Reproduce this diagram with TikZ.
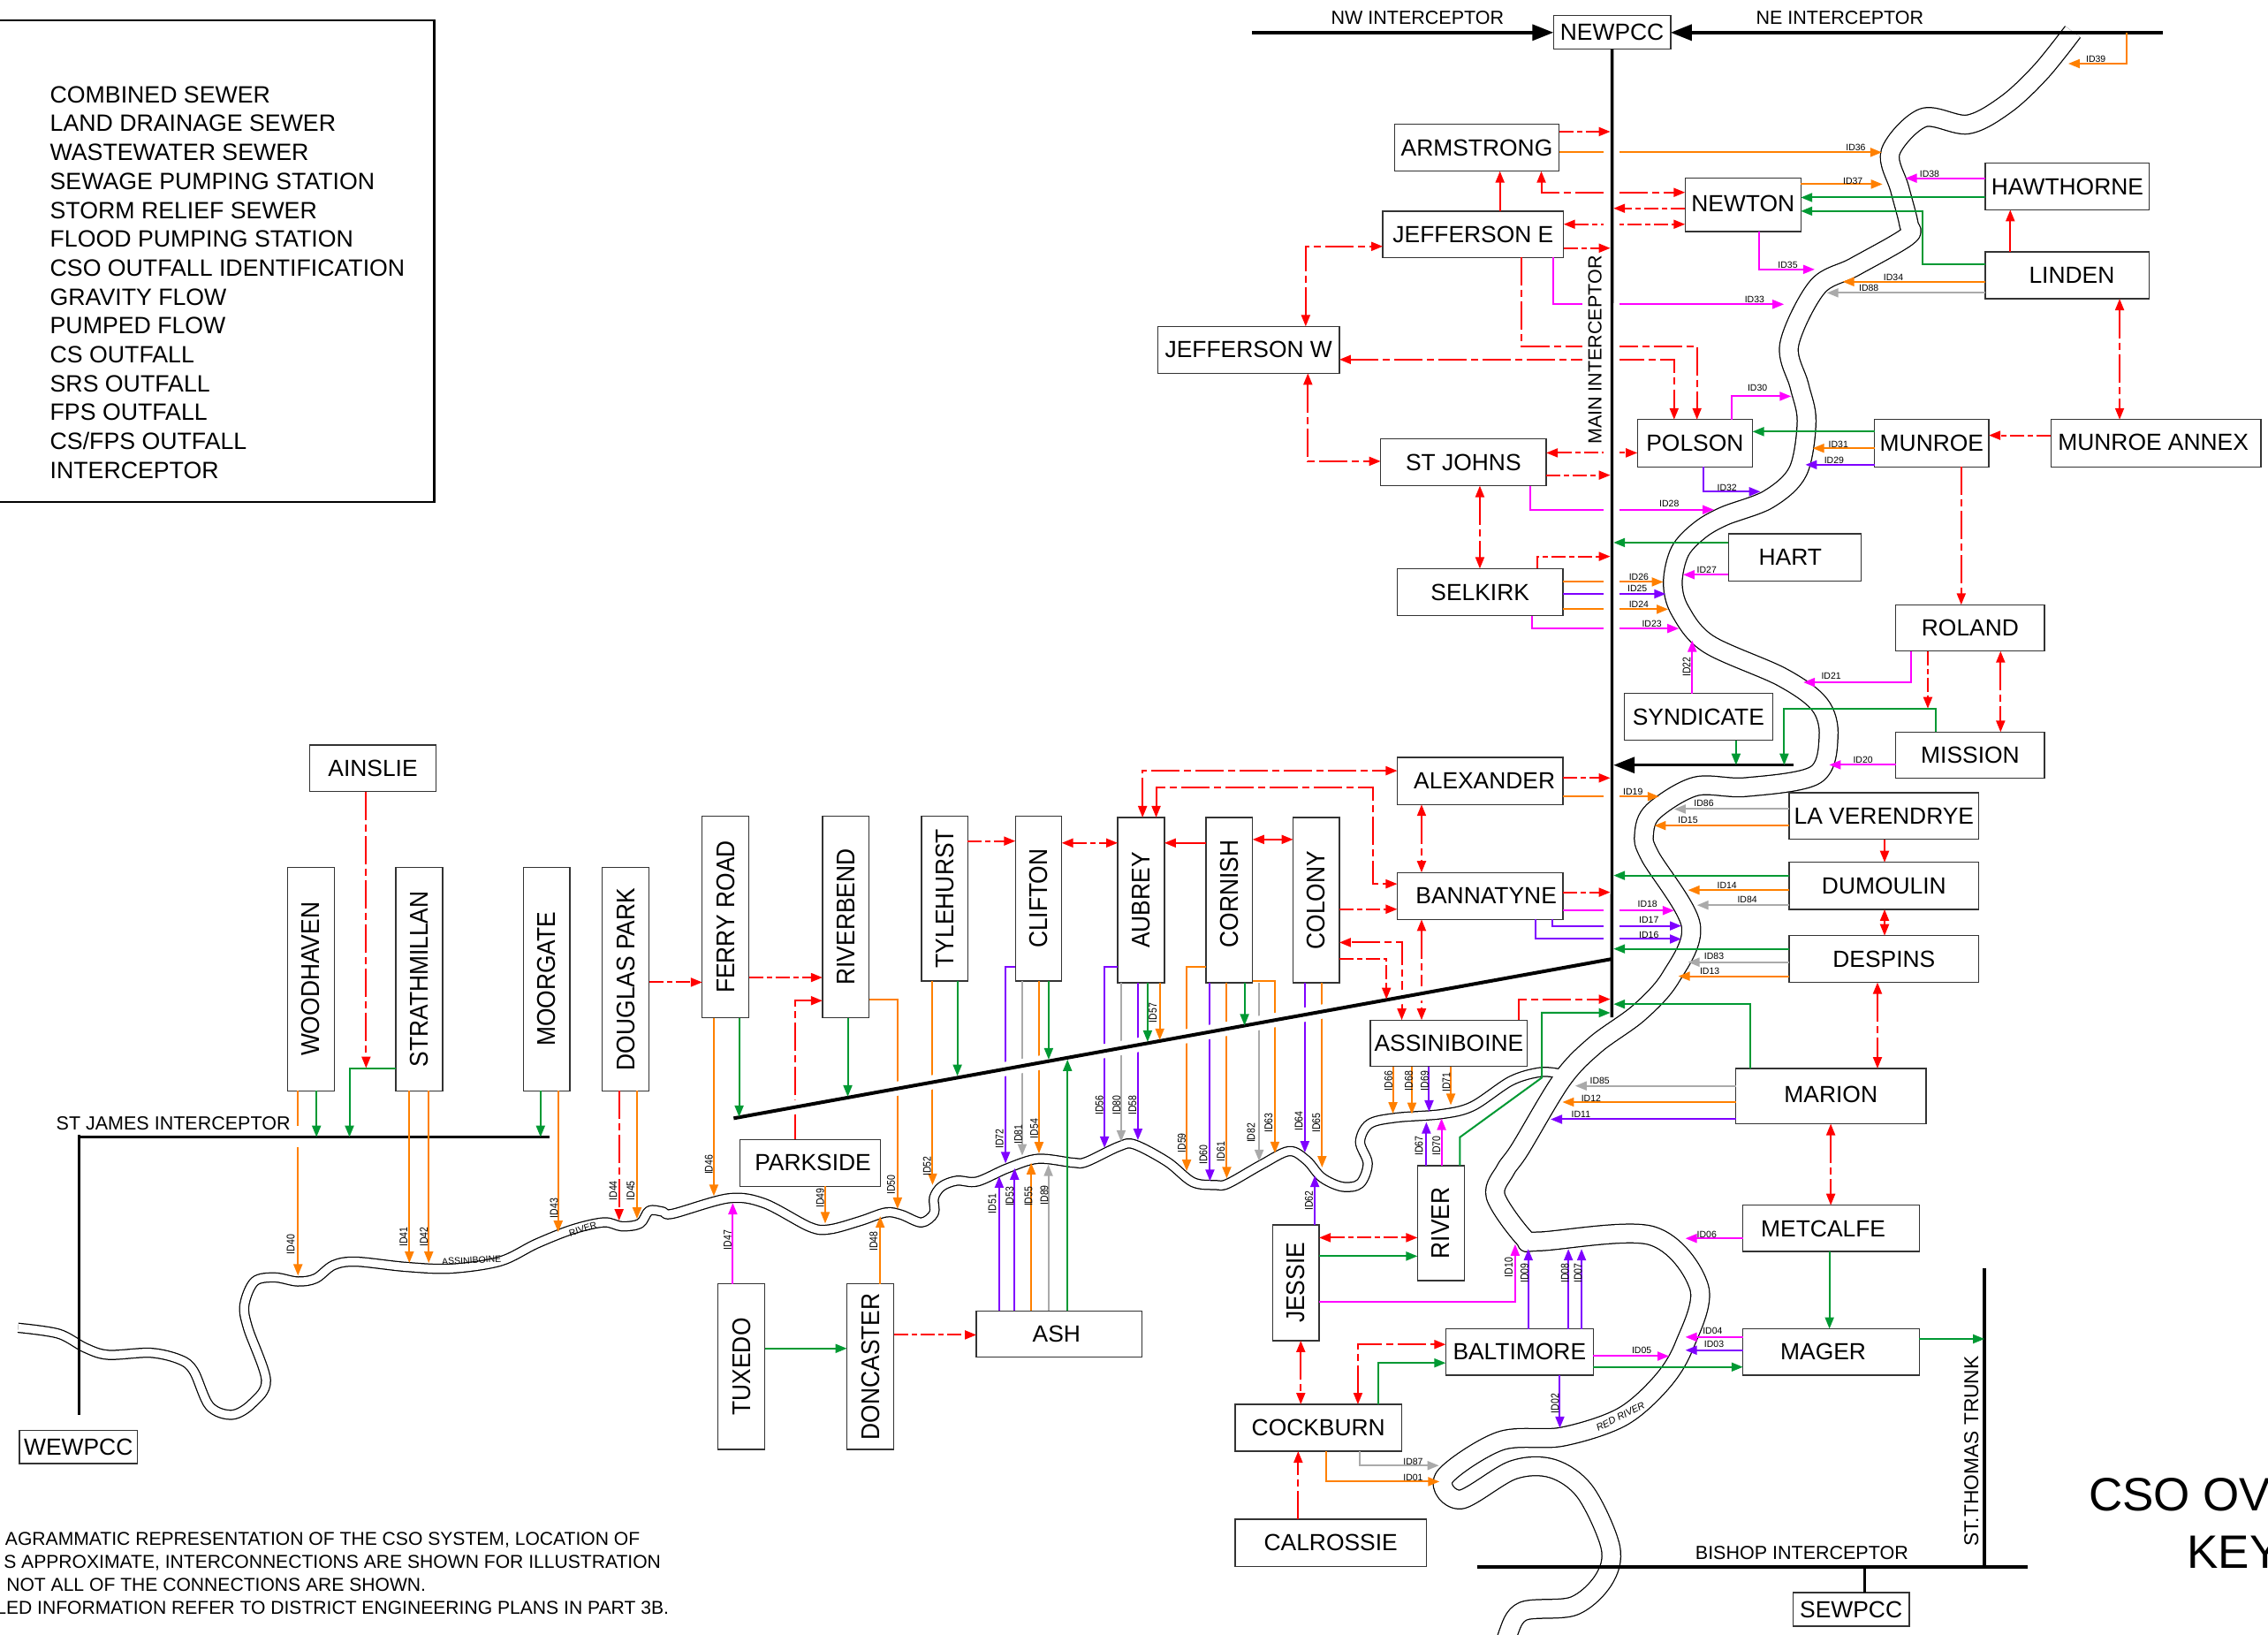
\documentclass[tikz,border=0pt]{standalone}
\usepackage{fontspec}
\usepackage{graphicx}
\setmainfont{Liberation Sans}
\usetikzlibrary{arrows.meta}
\definecolor{cgrn}{RGB}{0,153,51}
\definecolor{corg}{RGB}{255,128,0}
\definecolor{cpur}{RGB}{127,0,255}
\definecolor{cmag}{RGB}{255,0,255}
\definecolor{cgry}{RGB}{170,170,170}
\definecolor{cred}{RGB}{255,0,0}
\tikzset{
  >={Triangle[length=13pt,width=10pt]},
  box/.style={draw=black!80,fill=white,line width=1.3pt,inner sep=0pt,outer sep=0pt,font=\fontsize{26.4}{28}\selectfont},
  conn/.style={line width=2pt,->},
  rdash/.style={conn,cred,dash pattern=on 32pt off 5pt on 8pt off 5pt},
  rdashs/.style={conn,cred,dash pattern=on 16pt off 4pt on 6pt off 4pt},
  rsolid/.style={conn,cred},
  org/.style={conn,corg},
  grn/.style={conn,cgrn},
  mag/.style={conn,cmag},
  pur/.style={conn,cpur},
  gry/.style={conn,cgry},
  pipe/.style={line width=3.4pt,black},
  bigtip/.style={-{Triangle[length=24pt,width=18pt]}},
  gapband/.style={white,line width=16pt},
  lab/.style={font=\fontsize{21.5}{24}\selectfont,inner sep=0pt},
  idlab/.style={font=\fontsize{10.5}{12}\selectfont,inner sep=0pt},
  note/.style={anchor=east,inner sep=0pt,font=\fontsize{21.1}{24}\selectfont},
  redriver/.style={insert path={plot[smooth,tension=.55] coordinates {
    (1433,22) (1411,49.5) (1387,72) (1360.5,86) (1329.6,81.4) (1307,105) (1313.3,130.3) (1319.6,154.7) (1318.6,163.5)
    (1282,184.5) (1256.3,198.5) (1237,238.2) (1244,266.7) (1249,291) (1243,325.7) (1222.7,345) (1192,356.7) (1175,366.5)
    (1161.5,381) (1156.5,402.6) (1161.5,422) (1181,445) (1232,468) (1258,487) (1264.2,509) (1255,535.6) (1207,544) (1172,543.6)
    (1143,560.8) (1136.6,576.6) (1140.7,591.6) (1169,639.5) (1155,675.6) (1133,700) (1103,722) (1080,746) (1051,794) (1040.7,808.8)
    (1034,826.7) (1053.7,855.6) (1064,858) (1141.7,854) (1174.7,889.7) (1164.4,930) (1148.6,955.6) (1121,979.5) (1080,993) (1037,996)
    (998.4,1021.3) (1009.7,1036.4) (1046,1016) (1073.3,1015) (1096,1031.3) (1113.4,1069.3) (1108.6,1092) (1088,1110) (1053,1113.6) (1042.5,1129.4) (1040,1145)
  }}},
  assriver/.style={insert path={plot[smooth,tension=.55] coordinates {
    (1078,742) (1064.9,741) (1044.7,747) (1018,764.6) (996.7,770) (965,772.5) (946.8,776.8) (940.3,789.2) (945.6,804.2) (940.3,818) (928,820.2)
    (913.8,813.8) (903.4,802) (891.2,795.6) (872,805) (849,818) (840.3,819) (824.6,817) (807,803) (784.3,791) (773.7,792.3) (751,803) (742,803.6)
    (717.6,800.9) (696.6,807.4) (675.6,816.6) (661.6,816) (651,820) (645.7,827.8) (645.7,838.5) (637,844.9) (623,839.5) (612.4,838) (595,843.8)
    (573.8,849.6) (559.8,848) (528.3,831.6) (503.7,828.2) (465,838.9) (458,837.4) (448.8,836.8) (442.5,845.6) (430,847.6) (417.6,844.8) (395.8,849.7)
    (370.8,859.6) (345.9,871.7) (311.6,876.8) (280.5,875.6) (246.2,872) (230.6,874.4) (218.2,883.6) (205.7,885.7) (190,882.9) (176,885.7) (169,901.8)
    (171.4,917.7) (183.9,953.8) (174.5,969.8) (160.5,977.8) (144.9,971.8) (134,947.8) (124.7,939.8) (104.4,935) (74.8,936.4) (59,931.6) (40.5,921.8) (12.5,917.7)
  }}}
}
\newcommand{\bx}[6]{\node[box,minimum width={(#4-#2)*1.6371pt},minimum height={(#5-#3)*1.6371pt}] (#1) at ({(#2+#4)/2},{(#3+#5)/2}) {#6};}
\newcommand{\vt}[1]{\rotatebox{90}{\scalebox{1}[1.1]{#1}}}
\newcommand{\idh}[3]{\node[idlab] (lbl#3) at (#1,#2) {#3};}
\newcommand{\idv}[3]{\node[idlab,rotate=90] (lbl#3) at (#1,#2) {\scalebox{1}[1.2]{#3}};}
\begin{document}
\begin{tikzpicture}[x=1.6371pt,y=-1.6371pt]
\path[clip] (0,0) rectangle (1568,1129.45);
\useasboundingbox (0,0) rectangle (1568,1129.45);
\fill[white] (0,0) rectangle (1568,1129.45);
% rivers
\draw[black,line width=22.5pt,line join=round,redriver];
\draw[black,line width=11.5pt,line join=round,assriver];
\draw[white,line width=20pt,line join=round,redriver];
\draw[white,line width=9pt,line join=round,assriver];
\node[idlab,rotate=3] (lblass) at (326,871) {ASSINIBOINE};
\node[idlab,rotate=17] (lblriv) at (403,849.6) {RIVER};
\node[idlab,rotate=27,font=\fontsize{11}{12}\itshape] (lblred) at (1120.3,979) {RED RIVER};
% legend
\draw[black,line width=2.6pt] (-10,14) rectangle (300.3,347);
\node[anchor=north west,inner sep=0pt,align=left,font=\fontsize{26.7}{32.7}\selectfont] (legend) at (34.5,59.5) {COMBINED SEWER\\LAND DRAINAGE SEWER\\WASTEWATER SEWER\\SEWAGE PUMPING STATION\\STORM RELIEF SEWER\\FLOOD PUMPING STATION\\CSO OUTFALL IDENTIFICATION\\GRAVITY FLOW\\PUMPED FLOW\\CS OUTFALL\\SRS OUTFALL\\FPS OUTFALL\\CS/FPS OUTFALL\\INTERCEPTOR};
% boxes
\bx{newpcc}{1074}{10.6}{1155}{34}{NEWPCC}
\bx{armstrong}{964}{85.7}{1078}{118.3}{ARMSTRONG}
\bx{jeffe}{956}{146}{1081}{178}{JEFFERSON E}
\bx{jeffw}{800.5}{225.6}{926}{258}{JEFFERSON W}
\bx{newton}{1165}{123}{1245}{160}{\raisebox{3pt}{NEWTON}}
\bx{hawthorne}{1372.6}{112.8}{1486}{145}{HAWTHORNE}
\bx{linden}{1372.6}{174}{1486}{206.5}{\hspace*{10pt}LINDEN}
\bx{polson}{1132}{290}{1211.6}{322.7}{POLSON}
\bx{munroe}{1296}{290}{1375}{322.7}{MUNROE}
\bx{annex}{1418}{290}{1563}{322.7}{\raisebox{3pt}{MUNROE ANNEX}\hspace*{6pt}}
\bx{stjohns}{954.5}{303.4}{1069}{335.7}{ST JOHNS}
\bx{hart}{1195}{369}{1286.5}{401.5}{HART\hspace*{10pt}}
\bx{selkirk}{966}{393}{1080.5}{425.5}{SELKIRK}
\bx{roland}{1310.7}{418}{1413.5}{450}{ROLAND}
\bx{syndicate}{1123}{479.3}{1225.5}{511.6}{SYNDICATE}
\bx{mission}{1310.7}{506}{1413.5}{538}{MISSION}
\bx{alexander}{966}{523.5}{1080.5}{556}{\hspace*{10pt}ALEXANDER}
\bx{laver}{1237}{548}{1368}{580}{LA VERENDRYE}
\bx{dumoulin}{1237}{596}{1368}{628.5}{DUMOULIN}
\bx{bannatyne}{966}{603}{1080.5}{635.5}{\hspace*{14pt}BANNATYNE}
\bx{despins}{1237}{646.7}{1368}{679}{DESPINS}
\bx{assin}{947.4}{705}{1056}{737}{ASSINIBOINE}
\bx{marion}{1200}{738.5}{1331.6}{776.7}{\raisebox{4pt}{MARION}}
\bx{metcalfe}{1205}{833}{1327}{865}{METCALFE\hspace*{18pt}}
\bx{mager}{1205}{918.4}{1327}{950.5}{MAGER\hspace*{18pt}}
\bx{baltimore}{999.5}{918.4}{1101.5}{950.5}{BALTIMORE}
\bx{river}{980}{805.6}{1012.4}{885}{\vt{RIVER}}
\bx{jessie}{879.7}{846.6}{912}{926.6}{\vt{JESSIE}}
\bx{cockburn}{854}{970.6}{969}{1003}{COCKBURN}
\bx{calrossie}{854}{1050}{986}{1082.6}{CALROSSIE}
\bx{sewpcc}{1239.5}{1100.7}{1320}{1124}{SEWPCC}
\bx{wewpcc}{13.4}{988.7}{95}{1011.6}{WEWPCC}
\bx{ainslie}{214}{515}{301.6}{547}{AINSLIE}
\bx{woodhaven}{198.8}{599.5}{231}{754}{\vt{WOODHAVEN}}
\bx{strath}{273.6}{599.5}{306}{754}{\vt{STRATHMILLAN}}
\bx{moorgate}{362}{599.5}{394}{754}{\vt{MOORGATE}}
\bx{douglas}{416.4}{599.5}{448.8}{754}{\vt{DOUGLAS PARK}}
\bx{ferry}{485.5}{564}{517.7}{703.5}{\vt{FERRY ROAD}}
\bx{riverbend}{568.6}{564}{600.8}{703.5}{\vt{RIVERBEND}}
\bx{tyle}{637}{564}{669}{678}{\vt{TYLEHURST}}
\bx{clifton}{702}{564}{734}{678}{\vt{CLIFTON}}
\bx{aubrey}{772.7}{565}{805}{679.3}{\vt{AUBREY}}
\bx{cornish}{833.7}{565}{866}{679.3}{\vt{\hspace*{14pt}CORNISH}}
\bx{colony}{894}{565}{926}{679.3}{\vt{COLONY}}
\bx{parkside}{511.7}{787.5}{608.6}{820}{\hspace*{6pt}PARKSIDE}
\bx{tuxedo}{496.4}{887.4}{528.7}{1001.8}{\vt{TUXEDO}}
\bx{doncaster}{585.5}{887.4}{618}{1001.8}{\vt{DONCASTER}}
\bx{ash}{675}{906}{789.6}{938}{ASH\hspace*{6pt}}
% invisible main interceptor reference
\path node[inner sep=0pt,minimum width=3.2pt,minimum height={(703-34)*1.6371pt}] (ml) at (1114.4,368.5) {};
\coordinate (dA) at (507.2,772.9);
\coordinate (dB) at (1114.4,662.8);
% ---- connectors crossing the main interceptor or the diagonal (gapped)
\draw[org] (armstrong.east|-0,105.3) -- (1301,105.3);
\draw[rdash,<->] (1065.6,0|-armstrong.south) |- (newton.west|-0,133);
\draw[rdashs,<->] (jeffe.east|-0,155) -- (newton.west|-0,155);
\draw[mag] (1074,0|-jeffe.south) |- (1233.4,210.3);
\draw[rdash] (1051.8,0|-jeffe.south) -- (1051.8,239.3) -- (1173.2,239.3) -- (1173.2,0|-polson.north);
\draw[rdash,<->] (jeffw.east|-0,248.5) -- (1157.4,248.5) -- (1157.4,0|-polson.north);
\draw[rdashs,<->] (stjohns.east|-0,313) -- (polson.west|-0,313);
\draw[mag] (1057.7,0|-stjohns.south) |- (1185,352.3);
\draw[org] (selkirk.east|-0,402.2) -- (1149.9,402.2);
\draw[pur] (selkirk.east|-0,410.5) -- (1151.6,410.5);
\draw[org] (selkirk.east|-0,421.1) -- (1153.3,421.1);
\draw[mag] (1058.9,0|-selkirk.south) |- (1160.7,434.4);
\draw[org] (alexander.east|-0,550.5) -- (1147,550.5);
\draw[mag] (bannatyne.east|-0,629.3) -- (1157.4,629.3);
\draw[pur] (1073,0|-bannatyne.south) |- (1162.4,639.9);
\draw[pur] (1061.4,0|-bannatyne.south) |- (1162.4,649);
% crossing diagonal
\draw[rdash] (550,0|-parkside.north) |- (riverbend.west|-0,691.6);
\draw[org] (riverbend.east|-0,690.6) -- (620.5,690.6) -- (620.5,835.6);
\draw[org] (644.7,0|-tyle.south) -- (644.7,819);
\draw[pur] (clifton.west|-0,668.5) -- (695.2,668.5) -- (695.2,804.1);
\draw[gry] (706.7,0|-clifton.south) -- (706.7,798.7);
\draw[org] (718.3,0|-clifton.south) -- (718.3,797.2);
\draw[pur] (aubrey.west|-0,668.5) -- (763.6,668.5) -- (763.6,793.4);
\draw[gry] (775.1,0|-aubrey.south) -- (775.1,789.1);
\draw[pur] (786.7,0|-aubrey.south) -- (786.7,788);
\draw[org] (cornish.west|-0,668.5) -- (820.4,668.5) -- (820.4,809.4);
\draw[pur] (836.5,0|-cornish.south) -- (836.5,816.3);
\draw[org] (848.1,0|-cornish.south) -- (848.1,814.4);
\draw[gry] (870.5,0|-cornish.south) -- (870.5,802.6);
\draw[org] (cornish.east|-0,678.1) -- (881.4,678.1) -- (881.4,797);
\draw[pur] (902.1,0|-colony.south) -- (902.1,796.6);
\draw[org] (914,0|-colony.south) -- (914,806.9);
\draw[rdash,<->] (982.8,0|-bannatyne.south) -- (982.8,0|-assin.north);
\draw[rdash,<->] (969.1,0|-assin.north) |- (colony.east|-0,651.4);
% gaps
\fill[white] (1108.9,60) rectangle (1119.9,655);
\fill[white] (1094,178.7) rectangle (1119.9,306);
\draw[gapband] (dA) -- (dB);
% ---- pipes
\draw[pipe] (newpcc.south) -- (ml.south);
\draw[line width=4pt,black] (dA) -- (dB);
\draw[pipe] (54.5,785.9) -- (380,785.9);
\draw[pipe] (54.5,784.3) -- (54.5,977.8);
\draw[pipe] (1021,1083) -- (1402,1083);
\draw[pipe] (1372,876.6) -- (1372,1083);
\draw[pipe] (1289,1083) -- (1289,0|-sewpcc.north);
\draw[pipe,bigtip] (865.7,22.5) -- (newpcc.west|-0,22.5);
\draw[pipe,bigtip] (1495.5,22.5) -- (newpcc.east|-0,22.5);
\draw[pipe,bigtip] (1240,528.8) -- (ml.east|-0,528.8);
\node[lab] (nwl) at (980,12.3) {NW INTERCEPTOR};
\node[lab] (nel) at (1272,12.3) {NE INTERCEPTOR};
\node[lab,rotate=90] (mainl) at (1102.6,242) {MAIN INTERCEPTOR};
\node[lab] (sjl) at (119.8,776.6) {ST JAMES INTERCEPTOR};
\node[lab] (bil) at (1245.7,1073.5) {BISHOP INTERCEPTOR};
\node[lab,rotate=90,font=\fontsize{22.8}{24}\selectfont] (stl) at (1362.9,1003) {ST.THOMAS TRUNK};
% ---- other connectors, north part
\draw[rdashs] (armstrong.east|-0,91) -- (ml.west|-0,91);
\draw[rsolid] (1037,0|-jeffe.north) -- (1037,0|-armstrong.south);
\draw[rdashs] (newton.west|-0,144) -- (ml.east|-0,144);
\draw[rdashs] (jeffe.east|-0,171.5) -- (ml.west|-0,171.5);
\draw[rdash,<->] (902.7,0|-jeffw.north) |- (jeffe.west|-0,170.3);
\draw[rdash,<->] (904.2,0|-jeffw.south) |- (stjohns.west|-0,318.8);
\draw[org] (newton.east|-0,127.3) -- (1301.5,127.3);
\draw[mag] (hawthorne.west|-0,123.2) -- (1317.3,123.2);
\draw[grn] (hawthorne.west|-0,136.5) -- (newton.east|-0,136.5);
\draw[grn] (linden.west|-0,182.8) -- (1329.2,182.8) -- (1329.2,145.9) -- (newton.east|-0,145.9);
\draw[rsolid] (1389.8,0|-linden.north) -- (1389.8,0|-hawthorne.south);
\draw[mag] (1216.1,0|-newton.south) |- (1254.6,186.2);
\draw[org] (linden.west|-0,194.7) -- (1273.9,194.7);
\draw[gry] (linden.west|-0,202.4) -- (1263,202.4);
\draw[rdash,<->] (1465.4,0|-linden.south) -- (1465.4,0|-annex.north);
\draw[org] (1470.3,22.5) |- (1429.9,44);
\draw[mag] (1197.4,0|-polson.north) |- (1238.3,273.9);
\draw[grn] (munroe.west|-0,298.3) -- (polson.east|-0,298.3);
\draw[org] (munroe.west|-0,309.8) -- (1253.2,309.8);
\draw[pur] (munroe.west|-0,321.2) -- (1248.2,321.2);
\draw[rdashs] (annex.west|-0,300.9) -- (munroe.east|-0,300.9);
\draw[rdashs] (stjohns.east|-0,328.4) -- (ml.west|-0,328.4);
\draw[pur] (1177.6,0|-polson.south) |- (1217.1,339.8);
\draw[grn] (hart.west|-0,375) -- (ml.east|-0,375);
\draw[rdash,<->] (1023.1,0|-stjohns.south) -- (1023.1,0|-selkirk.north);
\draw[rdashs] (1062.6,0|-selkirk.north) |- (ml.west|-0,384.6);
\draw[rdash] (1355.9,0|-munroe.south) -- (1355.9,0|-roland.north);
\draw[mag] (hart.west|-0,397.2) -- (1163.6,397.2);
\draw[mag] (1169.9,0|-syndicate.north) -- (1169.9,442.6);
\draw[grn] (1200.2,0|-syndicate.south) -- (1200.2,528.8);
\draw[mag] (1321.2,0|-roland.south) |- (1246.8,471.6);
\draw[rdashs] (1332.8,0|-roland.south) -- (1332.8,489.7);
\draw[grn] (1338.2,0|-mission.north) -- (1338.2,489.7) -- (1233.5,489.7) -- (1233.5,528.8);
\draw[rdash,<->] (1383.1,0|-roland.south) -- (1383.1,0|-mission.north);
\draw[mag] (mission.west|-0,528.6) -- (1264.7,528.6);
\draw[rdashs] (alexander.east|-0,537.7) -- (ml.west|-0,537.7);
\draw[gry] (laver.west|-0,559.2) -- (1157.4,559.2);
\draw[org] (laver.west|-0,570.6) -- (1143.7,570.6);
\draw[rsolid] (1302.9,0|-laver.south) -- (1302.9,0|-dumoulin.north);
\draw[grn] (dumoulin.west|-0,605.1) -- (ml.east|-0,605.1);
\draw[org] (dumoulin.west|-0,615.2) -- (1167,615.2);
\draw[gry] (dumoulin.west|-0,625.6) -- (1173.2,625.6);
\draw[rsolid,<->] (1302.9,0|-dumoulin.south) -- (1302.9,0|-despins.north);
\draw[rdashs] (bannatyne.east|-0,616.7) -- (ml.west|-0,616.7);
\draw[grn] (despins.west|-0,655.8) -- (ml.east|-0,655.8);
\draw[gry] (despins.west|-0,665) -- (1167,665);
\draw[org] (despins.west|-0,674.7) -- (1160.3,674.7);
\draw[rdash,<->] (1298,0|-despins.south) -- (1298,0|-marion.north);
\draw[rdash,<->] (982.8,0|-alexander.south) -- (982.8,0|-bannatyne.north);
\draw[rdash] (1050.2,0|-assin.north) |- (ml.west|-0,690.6);
\draw[grn] (1210.2,0|-marion.north) |- (ml.east|-0,694);
\draw[grn] (1009.3,0|-river.north) -- (1009.3,786) -- (1066,744.8) -- (1066,700) -- (ml.west|-0,700);
\draw[gry] (marion.west|-0,750.5) -- (1089,750.5);
\draw[org] (marion.west|-0,761.7) -- (1080.2,761.7);
\draw[pur] (marion.west|-0,773.6) -- (1072,773.6);
\draw[rdash,<->] (1265.7,0|-marion.south) -- (1265.7,0|-metcalfe.north);
\draw[mag] (metcalfe.west|-0,855.9) -- (1165.2,855.9);
\draw[grn] (1264.8,0|-metcalfe.south) -- (1264.8,0|-mager.north);
\draw[grn] (mager.east|-0,925.4) -- (1372,925.4);
\draw[mag] (mager.west|-0,924.1) -- (1165.2,924.1);
\draw[pur] (mager.west|-0,933.2) -- (1165.2,933.2);
\draw[mag] (baltimore.east|-0,937.3) -- (1153.9,937.3);
\draw[grn] (baltimore.east|-0,944.8) -- (mager.west|-0,944.8);
\draw[pur] (1078.4,0|-baltimore.south) -- (1078.4,987);
\draw[pur] (1056.6,0|-baltimore.north) -- (1056.6,863.2);
\draw[pur] (1084.3,0|-baltimore.north) -- (1084.3,863.2);
\draw[pur] (1093.4,0|-baltimore.north) -- (1093.4,863.2);
\draw[mag] (jessie.east|-0,899.6) -| (1047.5,859.9);
\draw[rdashs,<->] (jessie.east|-0,855.4) -- (river.west|-0,855.4);
\draw[grn] (jessie.east|-0,868.2) -- (river.west|-0,868.2);
\draw[pur] (986.1,0|-river.north) -- (986.1,775.5);
\draw[mag] (996.6,0|-river.north) -- (996.6,773);
\draw[org] (963,0|-assin.south) -- (963,769.7);
\draw[org] (976.1,0|-assin.south) -- (976.1,770);
\draw[pur] (988,0|-assin.south) -- (988,768.4);
\draw[org] (1003,0|-assin.south) -- (1003,763.8);
\draw[rdash,<->] (899.3,0|-jessie.south) -- (899.3,0|-cockburn.north);
\draw[rdash,<->] (938.8,0|-cockburn.north) |- (baltimore.west|-0,929.2);
\draw[grn] (953,0|-cockburn.north) |- (baltimore.west|-0,942);
\draw[gry] (939.8,0|-cockburn.south) |- (994.8,1012.9);
\draw[org] (917,0|-cockburn.south) |- (995.2,1024);
\draw[rdash] (897.5,0|-calrossie.north) -- (897.5,0|-cockburn.south);
% ---- west part
\draw[rdashs] (douglas.east|-0,678.9) -- (ferry.west|-0,678.9);
\draw[rdashs] (ferry.east|-0,675.6) -- (riverbend.west|-0,675.6);
\draw[org] (493.5,0|-ferry.south) -- (493.5,826.6);
\draw[grn] (511,0|-ferry.south) -- (511,772);
\draw[grn] (586.1,0|-riverbend.south) -- (586.1,758);
\draw[grn] (661.9,0|-tyle.south) -- (661.9,743.7);
\draw[rdashs] (tyle.east|-0,581.3) -- (clifton.west|-0,581.3);
\draw[rdashs,<->] (clifton.east|-0,582.6) -- (aubrey.west|-0,582.6);
\draw[rsolid] (cornish.west|-0,582.6) -- (aubrey.east|-0,582.6);
\draw[rsolid,<->] (cornish.east|-0,580.2) -- (colony.west|-0,580.2);
\draw[rdash,<->] (789.9,0|-aubrey.north) |- (alexander.west|-0,532.7);
\draw[rdash,<->] (799.3,0|-aubrey.north) -- (799.3,544.3) -- (949.1,544.3) -- (949.1,610.9) -- (bannatyne.west|-0,610.9);
\draw[rdashs] (colony.east|-0,628.4) -- (bannatyne.west|-0,628.4);
\draw[rdashs] (colony.east|-0,662.9) -- (958.5,662.9) -- (958.5,690.6);
\draw[grn] (725,0|-clifton.south) -- (725,732.3);
\draw[grn] (738,0|-ash.north) -- (738,732.3);
\draw[grn] (793.4,0|-aubrey.south) -- (793.4,720.1);
\draw[org] (801.8,0|-aubrey.south) -- (801.8,718.8);
\draw[grn] (860.4,0|-cornish.south) -- (860.4,708.8);
\draw[pur] (909,0|-jessie.north) -- (909,812.5);
\draw[pur] (690.8,0|-ash.north) -- (690.8,813);
\draw[pur] (701.4,0|-ash.north) -- (701.4,807.4);
\draw[org] (712.9,0|-ash.north) -- (712.9,803.7);
\draw[gry] (724.8,0|-ash.north) -- (724.8,804.9);
\draw[mag] (506.6,0|-tuxedo.north) -- (506.6,831.4);
\draw[org] (608.5,0|-doncaster.north) -- (608.5,840.6);
\draw[org] (570.5,0|-parkside.south) -- (570.5,845.6);
\draw[grn] (tuxedo.east|-0,932) -- (doncaster.west|-0,932);
\draw[rdashs] (doncaster.east|-0,922.6) -- (ash.west|-0,922.6);
\draw[rdash] (253.1,0|-ainslie.south) -- (253.1,738.2);
\draw[grn] (strath.west|-0,738.2) -- (241.6,738.2) -- (241.6,785.9);
\draw[org,-] (206,0|-woodhaven.south) -- (206,778);
\draw[org] (206,793) -- (206,881.7);
\draw[grn] (218.8,0|-woodhaven.south) -- (218.8,785.9);
\draw[org] (283,0|-strath.south) -- (283,872.9);
\draw[org] (296.4,0|-strath.south) -- (296.4,872.9);
\draw[grn] (373.7,0|-moorgate.south) -- (373.7,785.9);
\draw[org] (385.9,0|-moorgate.south) -- (385.9,851.6);
\draw[rdash] (428,0|-douglas.south) -- (428,843.6);
\draw[org] (440.4,0|-douglas.south) -- (440.4,842.4);
% id labels
\idh{1449}{41}{ID39}\idh{1283}{102}{ID36}\idh{1281}{125}{ID37}\idh{1334}{120}{ID38}\idh{1236}{183}{ID35}\idh{1309}{192}{ID34}\idh{1292}{199}{ID88}\idh{1213}{207}{ID33}\idh{1215}{268}{ID30}\idh{1271}{307}{ID31}\idh{1268}{318}{ID29}\idh{1194}{337}{ID32}\idh{1154}{348}{ID28}\idh{1180}{394}{ID27}\idh{1133}{399}{ID26}\idh{1132}{407}{ID25}\idh{1133}{418}{ID24}\idh{1142}{431}{ID23}\idv{1166}{461}{ID22}\idh{1266}{467}{ID21}\idh{1288}{525}{ID20}\idh{1129}{547}{ID19}\idh{1178}{555}{ID86}\idh{1167}{567}{ID15}\idh{1194}{612}{ID14}\idh{1208}{622}{ID84}\idh{1139}{625}{ID18}\idh{1140}{636}{ID17}\idh{1140}{646}{ID16}\idh{1185}{661}{ID83}\idh{1182}{671}{ID13}\idh{1106}{747}{ID85}\idh{1100}{759}{ID12}\idh{1093}{770}{ID11}\idh{1180}{853}{ID06}\idv{1043}{876}{ID10}\idv{1054}{880}{ID09}\idv{1082}{880}{ID08}\idv{1091}{880}{ID07}\idh{1135}{933}{ID05}\idh{1184}{920}{ID04}\idh{1185}{929}{ID03}\idv{1075}{970}{ID02}\idh{977}{1010}{ID87}\idh{977}{1021}{ID01}
\idv{960}{747}{ID66}\idv{974}{747}{ID68}\idv{985}{747}{ID69}\idv{1000}{748}{ID71}\idv{981}{792}{ID67}\idv{993}{792}{ID70}\idv{898}{775}{ID64}\idv{910}{776}{ID65}\idv{905}{830}{ID62}\idv{877}{776}{ID63}\idv{865}{783}{ID82}\idv{817}{790}{ID59}\idv{832}{798}{ID60}\idv{844}{796}{ID61}\idv{760}{764}{ID56}\idv{772}{764}{ID80}\idv{783}{764}{ID58}\idv{797}{700}{ID57}\idv{691}{787}{ID72}\idv{704}{784}{ID81}\idv{715}{780}{ID54}\idv{686}{832}{ID51}\idv{698}{827}{ID53}\idv{711}{827}{ID55}\idv{722}{826}{ID89}\idv{641}{806}{ID52}\idv{616}{819}{ID50}\idv{567}{828}{ID49}\idv{604}{858}{ID48}\idv{503}{857}{ID47}\idv{490}{805}{ID46}\idv{436}{823}{ID45}\idv{424}{823}{ID44}\idv{383}{835}{ID43}\idv{293}{855}{ID42}\idv{279}{855}{ID41}\idv{201}{860}{ID40}
% notes and title
\node[note] (n1) at (442.5,1064.5) {AGRAMMATIC REPRESENTATION OF THE CSO SYSTEM, LOCATION OF};
\node[note] (n2) at (457,1080) {S APPROXIMATE, INTERCONNECTIONS ARE SHOWN FOR ILLUSTRATION};
\node[note] (n3) at (294.6,1095.5) {NOT ALL OF THE CONNECTIONS ARE SHOWN.};
\node[note] (n4) at (462.5,1111) {LED INFORMATION REFER TO DISTRICT ENGINEERING PLANS IN PART 3B.};
\node[anchor=west,inner sep=0pt,font=\fontsize{53}{56}\selectfont] (t1) at (1444,1033) {CSO OV};
\node[anchor=west,inner sep=0pt,font=\fontsize{53}{56}\selectfont] (t2) at (1512,1073) {KEY};
\end{tikzpicture}
\end{document}
